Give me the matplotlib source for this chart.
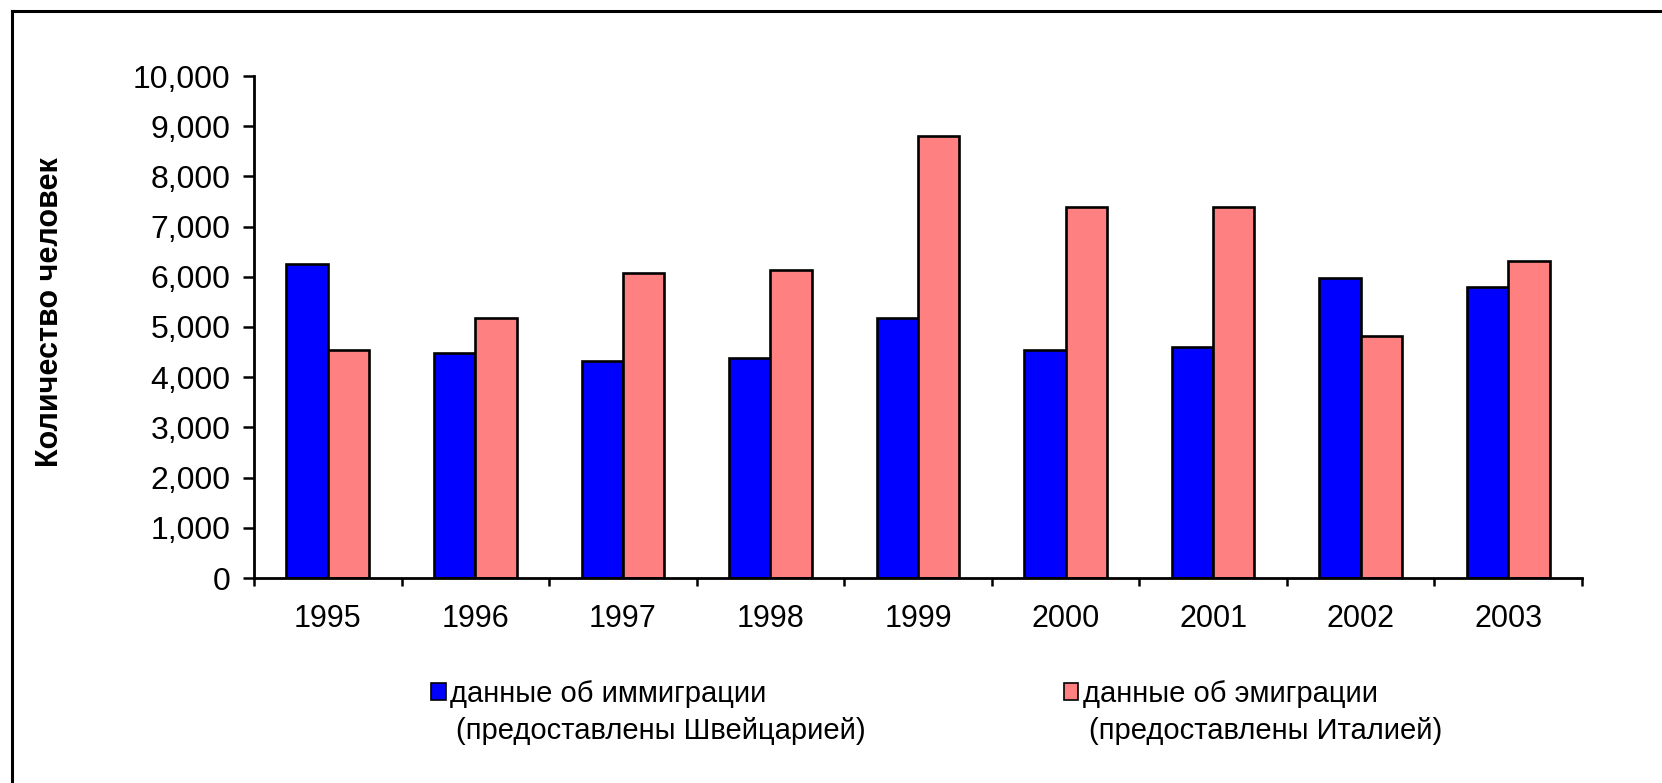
import matplotlib
matplotlib.use("Agg")
import matplotlib.pyplot as plt
from matplotlib.patches import Patch
from matplotlib.lines import Line2D
import numpy as np

plt.rcParams["font.family"] = ["Liberation Sans", "DejaVu Sans"]

years = ["1995", "1996", "1997", "1998", "1999", "2000", "2001", "2002", "2003"]
immigration_ch = [6250, 4490, 4320, 4380, 5180, 4550, 4600, 5970, 5790]
emigration_it = [4550, 5180, 6080, 6140, 8810, 7390, 7390, 4830, 6310]

imm_label = ["данные об иммиграции", "(предоставлены Швейцарией)"]
emi_label = ["данные об эмиграции", "(предоставлены Италией)"]

blue = "#0000FF"
pink = "#FF8080"

fig = plt.figure(figsize=(16.62, 7.83), dpi=100)
ax = fig.add_axes([254 / 1662, 1 - 578 / 783, (1582 - 254) / 1662, (578 - 76) / 783])

x = np.arange(len(years))
w = 0.28
ax.bar(x - w / 2, immigration_ch, w, color=blue, edgecolor="black", linewidth=1.9)
ax.bar(x + w / 2, emigration_it, w, color=pink, edgecolor="black", linewidth=1.9)

ax.set_xlim(-0.5, len(years) - 0.5)
ax.set_ylim(0, 10000)
ax.set_yticks(range(0, 10001, 1000))
ax.set_yticklabels([f"{v:,}" for v in range(0, 10001, 1000)])

ax.set_xticks(x)
ax.set_xticklabels(years)
ax.set_xticks(np.arange(-0.5, len(years), 1.0), minor=True)
ax.tick_params(axis="x", which="major", length=0, pad=19, labelsize=22)
ax.tick_params(axis="x", which="minor", length=6, width=1.8, direction="out")
ax.tick_params(axis="y", length=8, width=1.8, pad=9, labelsize=23)

for s in ["top", "right"]:
    ax.spines[s].set_visible(False)
for s in ["left", "bottom"]:
    ax.spines[s].set_linewidth(2)

fig.text(50 / 1662, 1 - 312 / 783, "Количество человек", rotation=90,
         ha="center", va="center", fontsize=22, fontweight="bold")

# border (only top and left visible in the crop)
fig.add_artist(Line2D([12 / 1662, 1.0], [1 - 11 / 783, 1 - 11 / 783],
                      transform=fig.transFigure, color="black", linewidth=2.2))
fig.add_artist(Line2D([12 / 1662, 12 / 1662], [0.0, 1 - 11 / 783],
                      transform=fig.transFigure, color="black", linewidth=2.2))

handles = [Patch(facecolor=blue, edgecolor="black", linewidth=1.2),
           Patch(facecolor=pink, edgecolor="black", linewidth=1.2)]
leg = fig.legend(handles, [imm_label[0], emi_label[0]], ncol=2, frameon=False,
                 loc="center left", bbox_to_anchor=(431 / 1662, 1 - 694 / 783),
                 fontsize=21, handlelength=0.5, handleheight=0.5,
                 handletextpad=0.15, columnspacing=10.2, borderaxespad=0, borderpad=0)

fig.canvas.draw()
inv = fig.transFigure.inverted()
for t, second in zip(leg.get_texts(), [imm_label[1], emi_label[1]]):
    bb = t.get_window_extent()
    fx, fy = inv.transform((bb.x0 + 6, bb.y0))
    fig.text(fx, fy - 9 / 783, second, ha="left", va="top", fontsize=21)

fig.savefig("out.png", dpi=100)
